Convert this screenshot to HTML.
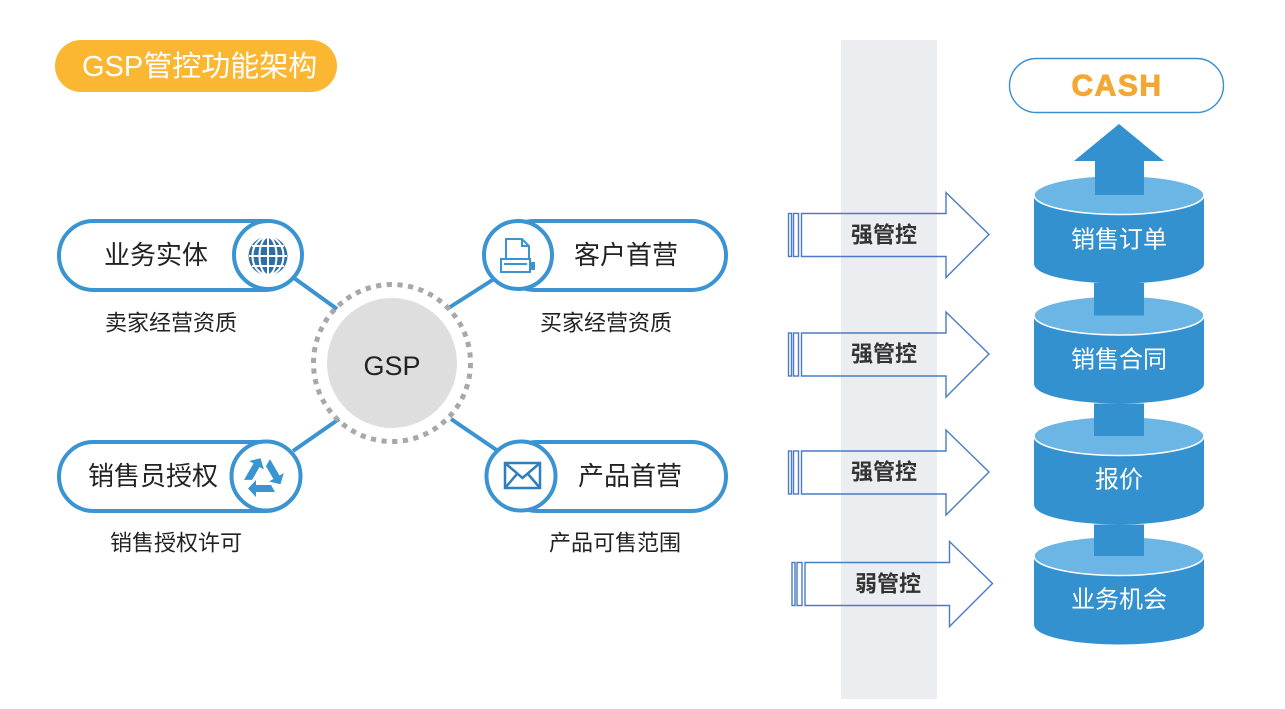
<!DOCTYPE html>
<html>
<head>
<meta charset="utf-8">
<style>
html,body{margin:0;padding:0;background:#fff;}
svg{display:block;}
text{font-family:"Liberation Sans","Noto Sans CJK SC",sans-serif;}
</style>
</head>
<body>
<svg width="1285" height="709" viewBox="0 0 1285 709" xmlns="http://www.w3.org/2000/svg">
  <rect x="0" y="0" width="1285" height="709" fill="#ffffff"/>

  <!-- Title pill -->
  <rect x="55" y="40" width="282" height="52" rx="26" fill="#FBB731"/>
  <text x="82" y="67" font-size="29" fill="#ffffff" dominant-baseline="central">GSP管控功能架构</text>

  <!-- Connectors -->
  <g stroke="#3A94D1" stroke-width="4" stroke-linecap="butt">
    <line x1="294" y1="278" x2="337" y2="309"/>
    <line x1="494" y1="279" x2="447" y2="309"/>
    <line x1="293" y1="451" x2="339" y2="419"/>
    <line x1="498" y1="451" x2="451" y2="419"/>
  </g>

  <!-- GSP center -->
  <circle cx="392" cy="363" r="78.5" fill="none" stroke="#A8A8A8" stroke-width="5" stroke-dasharray="5.2 5.52"/>
  <circle cx="392" cy="363" r="65" fill="#DEDEDE"/>
  <text x="392" y="366" font-size="27" fill="#222" text-anchor="middle" dominant-baseline="central">GSP</text>

  <!-- Node: 业务实体 -->
  <rect x="59" y="221" width="241" height="69" rx="34.5" fill="#fff" stroke="#3A94D1" stroke-width="4"/>
  <circle cx="268" cy="255" r="34" fill="#fff" stroke="#3A94D1" stroke-width="4"/>
  <text x="156" y="255" font-size="26" fill="#222" text-anchor="middle" dominant-baseline="central">业务实体</text>
  <g>
    <circle cx="268" cy="256" r="19.5" fill="#2F6FA6"/>
    <g fill="none" stroke="#fff" stroke-width="2">
      <line x1="268" y1="237" x2="268" y2="275"/>
      <ellipse cx="268" cy="256" rx="8.5" ry="19"/>
      <ellipse cx="268" cy="256" rx="15.5" ry="19"/>
      <line x1="249" y1="256" x2="287" y2="256"/>
      <line x1="252" y1="246" x2="284" y2="246"/>
      <line x1="252" y1="266" x2="284" y2="266"/>
    </g>
  </g>
  <text x="171" y="323" font-size="22" fill="#222" text-anchor="middle" dominant-baseline="central">卖家经营资质</text>

  <!-- Node: 客户首营 -->
  <rect x="500" y="221" width="226" height="69" rx="34.5" fill="#fff" stroke="#3A94D1" stroke-width="4"/>
  <circle cx="518" cy="255" r="34" fill="#fff" stroke="#3A94D1" stroke-width="4"/>
  <text x="626" y="255" font-size="26" fill="#222" text-anchor="middle" dominant-baseline="central">客户首营</text>
  <g fill="#fff" stroke="#3A94D1" stroke-width="2">
    <path d="M506,239 L522,239 L529,246 L529,259 L506,259 Z"/>
    <path d="M522,239 L522,246 L529,246" fill="none"/>
    <rect x="501" y="259" width="29" height="13"/>
    <line x1="504" y1="264" x2="527" y2="264"/>
  </g>
  <rect x="531" y="262" width="4" height="8" fill="#3A94D1"/>
  <text x="606" y="323" font-size="22" fill="#222" text-anchor="middle" dominant-baseline="central">买家经营资质</text>

  <!-- Node: 销售员授权 -->
  <rect x="59" y="442" width="241" height="69" rx="34.5" fill="#fff" stroke="#3A94D1" stroke-width="4"/>
  <circle cx="266" cy="476" r="34.5" fill="#fff" stroke="#3A94D1" stroke-width="4"/>
  <text x="153" y="476" font-size="26" fill="#222" text-anchor="middle" dominant-baseline="central">销售员授权</text>
  <g fill="#3A94D1">
    <g>
      <polygon points="255,485 271,485 275,492 255,492"/>
      <polygon points="256,480 256,497 248,488.5"/>
    </g>
    <g transform="rotate(120 263 477)">
      <polygon points="255,485 271,485 275,492 255,492"/>
      <polygon points="256,480 256,497 248,488.5"/>
    </g>
    <g transform="rotate(240 263 477)">
      <polygon points="255,485 271,485 275,492 255,492"/>
      <polygon points="256,480 256,497 248,488.5"/>
    </g>
  </g>
  <text x="176" y="543" font-size="22" fill="#222" text-anchor="middle" dominant-baseline="central">销售授权许可</text>

  <!-- Node: 产品首营 -->
  <rect x="503" y="442" width="223" height="69" rx="34.5" fill="#fff" stroke="#3A94D1" stroke-width="4"/>
  <circle cx="521" cy="476" r="34.5" fill="#fff" stroke="#3A94D1" stroke-width="4"/>
  <text x="630" y="476" font-size="26" fill="#222" text-anchor="middle" dominant-baseline="central">产品首营</text>
  <g fill="none" stroke="#2F7FC0" stroke-width="2.5" stroke-linejoin="miter">
    <rect x="505" y="463" width="35" height="25"/>
    <path d="M505,463 L522.5,478 L540,463"/>
    <path d="M505,488 L517,474"/>
    <path d="M540,488 L528,474"/>
  </g>
  <text x="615" y="543" font-size="22" fill="#222" text-anchor="middle" dominant-baseline="central">产品可售范围</text>

  <!-- Gray band -->
  <rect x="841" y="40" width="96" height="659" fill="#ECEDF1"/>

  <!-- Arrows -->
  <g fill="none" stroke="#4A7BC6" stroke-width="1.4">
    <rect x="788.5" y="213.5" width="3" height="43"/>
    <rect x="793.5" y="213.5" width="5" height="43"/>
    <path d="M801.5,213.5 L946,213.5 L946,192.5 L989,234.5 L946,277.5 L946,256.5 L801.5,256.5 Z"/>
    <rect x="788.5" y="333" width="3" height="43"/>
    <rect x="793.5" y="333" width="5" height="43"/>
    <path d="M801.5,333 L946,333 L946,312 L989,354 L946,397 L946,376 L801.5,376 Z"/>
    <rect x="788.5" y="451" width="3" height="43"/>
    <rect x="793.5" y="451" width="5" height="43"/>
    <path d="M801.5,451 L946,451 L946,430 L989,472 L946,515 L946,494 L801.5,494 Z"/>
    <rect x="792" y="562.5" width="3" height="43"/>
    <rect x="797" y="562.5" width="5" height="43"/>
    <path d="M805,562.5 L949.5,562.5 L949.5,541.5 L992.5,583.5 L949.5,626.5 L949.5,605.5 L805,605.5 Z"/>
  </g>
  <g font-size="22" font-weight="bold" fill="#333" text-anchor="middle" dominant-baseline="central">
    <text x="884" y="235">强管控</text>
    <text x="884" y="354">强管控</text>
    <text x="884" y="472">强管控</text>
    <text x="888" y="584">弱管控</text>
  </g>

  <!-- CASH pill -->
  <rect x="1009.5" y="58.5" width="214" height="54" rx="27" fill="#fff" stroke="#3A8FD0" stroke-width="1.4"/>
  <text x="1117" y="86" font-size="30" font-weight="bold" fill="#F5A733" stroke="#F5A733" stroke-width="0.9" text-anchor="middle" dominant-baseline="central" letter-spacing="1.5">CASH</text>

  <!-- Cylinders -->
  <g>
    <path d="M1034,195 L1034,264 A85,19.5 0 0 0 1204,264 L1204,195 Z" fill="#3391D0"/>
    <ellipse cx="1119" cy="195" rx="85" ry="19.5" fill="#6BB6E4" stroke="#fff" stroke-width="1.5"/>
    <path d="M1034,315.5 L1034,384 A85,19.5 0 0 0 1204,384 L1204,315.5 Z" fill="#3391D0"/>
    <ellipse cx="1119" cy="315.5" rx="85" ry="19.5" fill="#6BB6E4" stroke="#fff" stroke-width="1.5"/>
    <rect x="1094" y="283" width="50" height="32.5" fill="#3391D0"/>
    <path d="M1034,436 L1034,505 A85,19.5 0 0 0 1204,505 L1204,436 Z" fill="#3391D0"/>
    <ellipse cx="1119" cy="436" rx="85" ry="19.5" fill="#6BB6E4" stroke="#fff" stroke-width="1.5"/>
    <rect x="1094" y="403.5" width="50" height="32.5" fill="#3391D0"/>
    <path d="M1034,556 L1034,625 A85,19.5 0 0 0 1204,625 L1204,556 Z" fill="#3391D0"/>
    <ellipse cx="1119" cy="556" rx="85" ry="19.5" fill="#6BB6E4" stroke="#fff" stroke-width="1.5"/>
    <rect x="1094" y="524.5" width="50" height="31.5" fill="#3391D0"/>
    <polygon points="1119,124 1164,161 1144,161 1144,195 1095,195 1095,161 1074,161" fill="#3391D0"/>
  </g>
  <g font-size="24" fill="#fff" text-anchor="middle" dominant-baseline="central">
    <text x="1119" y="240">销售订单</text>
    <text x="1119" y="360">销售合同</text>
    <text x="1119" y="480">报价</text>
    <text x="1119" y="600">业务机会</text>
  </g>
</svg>
</body>
</html>
